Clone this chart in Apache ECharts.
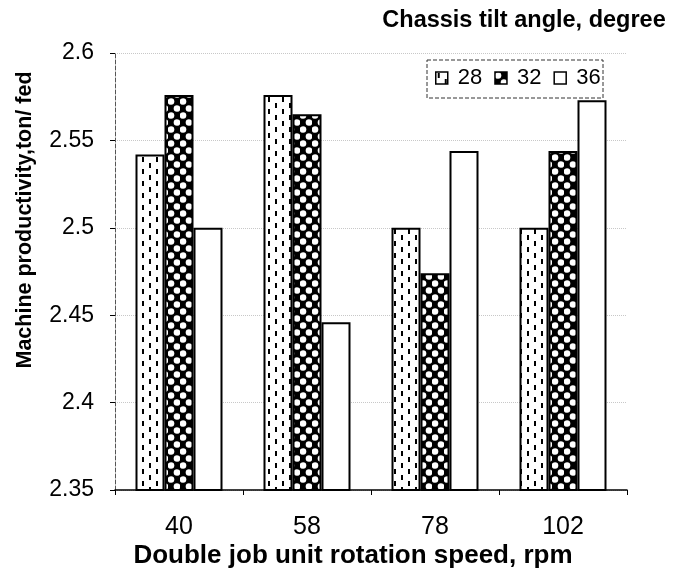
<!DOCTYPE html>
<html>
<head>
<meta charset="utf-8">
<script src="https://cdn.jsdelivr.net/npm/echarts@6/dist/echarts.min.js"></script>
<style>
html,body{margin:0;padding:0;background:#fff;}
#c{width:676px;height:570px;}
</style>
</head>
<body>
<div id="c"></div>
<script>
// ---- data ----
const categories = ['40', '58', '78', '102'];
const seriesNames = ['28', '32', '36'];
const values28 = [2.542, 2.576, 2.500, 2.500];
const values32 = [2.576, 2.565, 2.474, 2.544];
const values36 = [2.500, 2.446, 2.544, 2.573];
const yTicks = ['2.35', '2.4', '2.45', '2.5', '2.55', '2.6'];

// ---- patterns ----
function dashPattern() {
  const c = document.createElement('canvas');
  c.width = 14; c.height = 12;
  const g = c.getContext('2d');
  g.fillStyle = '#fff'; g.fillRect(0, 0, 14, 12);
  g.fillStyle = '#000';
  g.fillRect(2, 1, 2, 5);
  g.fillRect(9, 7, 2, 5);
  return c;
}
function checkPattern() {
  const c = document.createElement('canvas');
  c.width = 12; c.height = 14;
  const g = c.getContext('2d');
  g.fillStyle = '#000'; g.fillRect(0, 0, 12, 14);
  g.fillStyle = '#fff';
  g.beginPath(); g.arc(3, 3.5, 3.3, 0, Math.PI * 2); g.fill();
  g.beginPath(); g.arc(9, 10.5, 3.3, 0, Math.PI * 2); g.fill();
  return c;
}
const fills = [
  { image: dashPattern(), repeat: 'repeat' },
  { image: checkPattern(), repeat: 'repeat' },
  '#ffffff'
];
const allValues = [values28, values32, values36];

const FONT = '"Liberation Sans", Arial, sans-serif';
const chart = echarts.init(document.getElementById('c'), null, { renderer: 'canvas' });

chart.setOption({
  backgroundColor: '#fff',
  animation: false,
  grid: { left: 115, right: 49, top: 53, bottom: 80 },
  legend: {
    data: seriesNames,
    left: 435, top: 67, padding: 0,
    itemWidth: 12, itemHeight: 12, itemGap: 12,
    icon: 'rect',
    itemStyle: { borderColor: '#000', borderWidth: 1.5 },
    textStyle: { fontFamily: FONT, fontSize: 22, color: '#000', padding: [0, 0, 0, 5] }
  },
  xAxis: {
    type: 'category',
    data: categories,
    axisLine: { lineStyle: { color: '#000', width: 1.5 } },
    axisTick: { show: true, length: 5, lineStyle: { color: '#000', width: 1 } },
    axisLabel: { fontFamily: FONT, fontSize: 25, color: '#000', margin: 25 },
    splitLine: { show: false }
  },
  yAxis: {
    type: 'value',
    min: 2.35, max: 2.6, interval: 0.05,
    axisLine: { show: true, lineStyle: { color: '#555', width: 1, type: 'dashed' } },
    axisTick: { show: true, length: 5, lineStyle: { color: '#000' } },
    axisLabel: {
      fontFamily: FONT, fontSize: 23, color: '#000', margin: 21,
      formatter: function (v) {
        const i = Math.round((v - 2.35) / 0.05);
        return yTicks[i] !== undefined ? yTicks[i] : '';
      }
    },
    splitLine: { show: true, lineStyle: { color: '#c8c8c8', width: 1, type: 'dotted' } }
  },
  series: seriesNames.map(function (name, k) {
    return {
      name: name,
      type: 'bar',
      data: allValues[k],
      barWidth: 29,
      barGap: '0%',
      itemStyle: { color: fills[k], borderColor: '#000', borderWidth: 2 }
    };
  }),
  graphic: [
    {
      type: 'rect',
      shape: { x: 427, y: 60, width: 176, height: 38 },
      style: { fill: 'none', stroke: '#333', lineWidth: 1, lineDash: [4, 2] },
      silent: true
    },
    {
      type: 'text',
      x: 524, y: 21,
      style: {
        text: 'Chassis tilt angle, degree',
        font: 'bold 23.5px ' + FONT,
        fill: '#000', align: 'center', verticalAlign: 'middle'
      }
    },
    {
      type: 'text',
      x: 353, y: 556,
      style: {
        text: 'Double job unit rotation speed, rpm',
        font: 'bold 26px ' + FONT,
        fill: '#000', align: 'center', verticalAlign: 'middle'
      }
    },
    {
      type: 'text',
      x: 25, y: 220,
      rotation: Math.PI / 2,
      style: {
        text: 'Machine productivity,ton/ fed',
        font: 'bold 21.5px ' + FONT,
        fill: '#000', align: 'center', verticalAlign: 'middle'
      }
    }
  ]
});
</script>
</body>
</html>
